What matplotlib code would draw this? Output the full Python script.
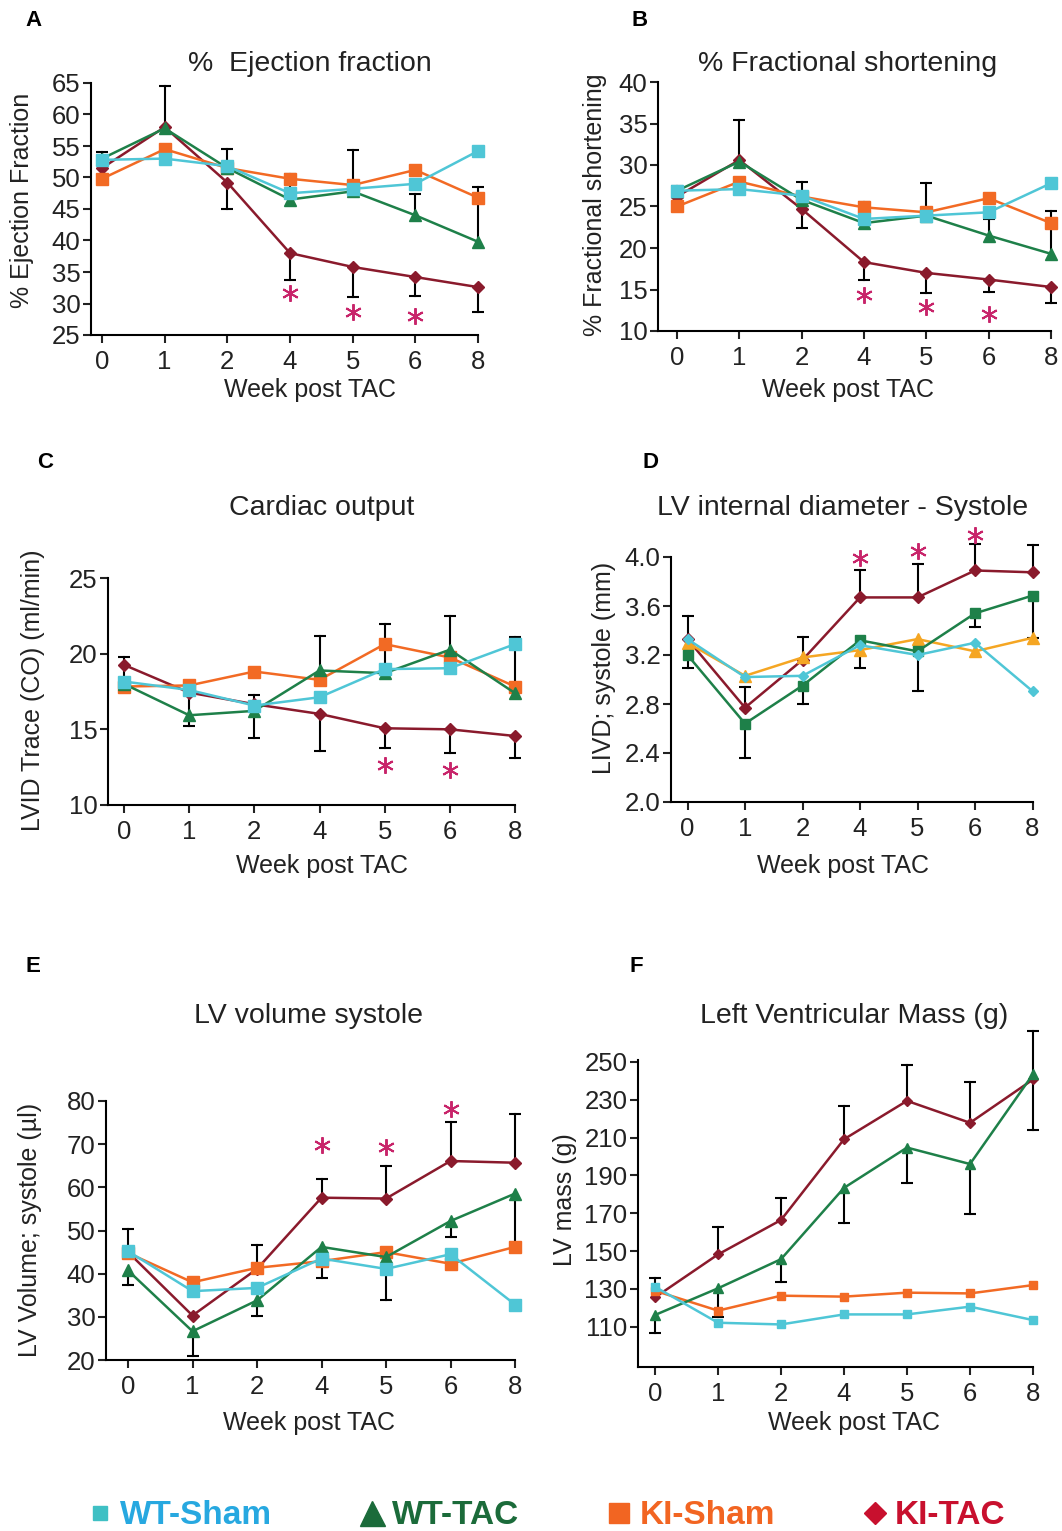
import matplotlib
matplotlib.use('Agg')
import matplotlib.pyplot as plt
from matplotlib.lines import Line2D
from matplotlib.font_manager import FontProperties

plt.rcParams['font.family'] = ['Liberation Sans', 'DejaVu Sans']

W, H = 1062, 1531

WEEKS = ['0', '1', '2', '4', '5', '6', '8']

# A - ejection fraction
EF_WT_SHAM = [52.8, 53.0, 51.8, 47.5, 48.2, 49.0, 54.2]
EF_WT_TAC = [53.0, 57.8, 51.5, 46.5, 47.8, 44.0, 39.8]
EF_KI_SHAM = [49.8, 54.5, 51.5, 49.8, 48.8, 51.2, 46.8]
EF_KI_TAC = [51.5, 58.0, 49.2, 38.0, 35.8, 34.2, 32.6]
EF_WT_TAC_UP = [1.0, 6.8, 3.0, 4.0, 6.5, 3.4, 8.7]
EF_WT_TAC_DN = [0, 0, 0, 0, 0, 0, 0]
EF_KI_TAC_UP = [0, 0, 0, 0, 0, 0, 0]
EF_KI_TAC_DN = [0, 0, 4.2, 4.2, 4.8, 3.0, 4.0]
EF_STARS = [31.7, 28.7, 28.0]

# B - fractional shortening
FS_WT_SHAM = [26.9, 27.1, 26.3, 23.5, 23.9, 24.3, 27.8]
FS_WT_TAC = [26.9, 30.4, 25.8, 23.0, 23.9, 21.5, 19.3]
FS_KI_SHAM = [25.0, 28.0, 26.2, 24.9, 24.3, 26.0, 23.0]
FS_KI_TAC = [26.2, 30.6, 24.7, 18.3, 17.0, 16.2, 15.3]
FS_WT_TAC_UP = [0.6, 5.0, 2.15, 2.5, 3.9, 2.0, 5.2]
FS_WT_TAC_DN = [0, 0, 0, 0, 0, 0, 0]
FS_KI_TAC_UP = [0, 0, 0, 0, 0, 0, 0]
FS_KI_TAC_DN = [0, 0, 2.3, 2.1, 2.4, 1.5, 1.9]
FS_STARS = [14.3, 12.9, 12.0]

# C - cardiac output
CO_WT_SHAM = [18.16, 17.6, 16.57, 17.12, 18.98, 19.04, 20.63]
CO_WT_TAC = [18.0, 15.93, 16.22, 18.89, 18.71, 20.26, 17.39]
CO_KI_SHAM = [17.83, 17.9, 18.82, 18.27, 20.63, 19.75, 17.83]
CO_KI_TAC = [19.26, 17.43, 16.66, 16.02, 15.07, 15.0, 14.56]
CO_WT_TAC_UP = [1.8, 0, 1.06, 2.25, 3.25, 2.2, 3.7]
CO_WT_TAC_DN = [0, 0, 0, 0, 0, 0, 0]
CO_KI_TAC_UP = [0, 0, 0, 0, 0, 0, 0]
CO_KI_TAC_DN = [0, 2.2, 2.2, 2.45, 1.32, 1.58, 1.47]
CO_STARS = [12.65, 12.3]

# D - LV internal diameter, systole
LVID_WT_SHAM = [3.33, 3.02, 3.03, 3.28, 3.20, 3.30, 2.905]
LVID_WT_TAC = [3.20, 2.64, 2.95, 3.32, 3.23, 3.54, 3.685]
LVID_KI_SHAM = [3.30, 3.03, 3.18, 3.24, 3.33, 3.23, 3.34]
LVID_KI_TAC = [3.33, 2.77, 3.16, 3.67, 3.67, 3.89, 3.875]
LVID_WT_TAC_UP = [0, 0, 0, 0, 0, 0, 0]
LVID_WT_TAC_DN = [0.11, 0.28, 0.15, 0.23, 0.32, 0.11, 0.35]
LVID_KI_TAC_UP = [0.19, 0.17, 0.19, 0.22, 0.27, 0.22, 0.22]
LVID_KI_TAC_DN = [0, 0, 0, 0, 0, 0, 0]
LVID_STARS = [3.99, 4.05, 4.18]

# E - LV volume, systole
LVV_WT_SHAM = [45.2, 35.95, 36.7, 43.5, 41.1, 44.5, 32.85]
LVV_WT_TAC = [40.75, 26.65, 33.8, 46.2, 43.85, 52.2, 58.55]
LVV_KI_SHAM = [44.8, 38.0, 41.35, 42.9, 45.0, 42.3, 46.2]
LVV_KI_TAC = [45.0, 30.3, 41.1, 57.6, 57.4, 66.1, 65.7]
LVV_WT_TAC_UP = [0, 0, 0, 0, 0, 0, 0]
LVV_WT_TAC_DN = [3.45, 5.8, 3.7, 7.2, 9.95, 3.7, 12.35]
LVV_KI_TAC_UP = [5.3, 0, 5.45, 4.3, 7.6, 8.95, 11.3]
LVV_KI_TAC_DN = [0, 0, 0, 0, 0, 0, 0]
LVV_STARS = [69.8, 69.4, 78.1]

# F - LV mass
LVM_WT_SHAM = [131.1, 112.1, 111.2, 116.5, 116.5, 120.6, 113.5]
LVM_WT_TAC = [116.2, 130.3, 145.7, 183.4, 204.7, 196.0, 243.5]
LVM_KI_SHAM = [129.0, 118.5, 126.4, 125.9, 128.0, 127.6, 132.0]
LVM_KI_TAC = [125.5, 148.2, 166.4, 209.1, 229.4, 217.8, 240.7]
LVM_WT_TAC_UP = [0, 0, 0, 0, 0, 0, 22.9]
LVM_WT_TAC_DN = [9.7, 15.0, 12.3, 18.4, 18.7, 26.5, 0]
LVM_KI_TAC_UP = [10.0, 14.6, 11.9, 17.7, 19.2, 21.5, 0]
LVM_KI_TAC_DN = [0, 0, 0, 0, 0, 0, 26.8]

GROUPS = ['WT-Sham', 'WT-TAC', 'KI-Sham', 'KI-TAC']

CYAN = '#4fc6d6'
GREEN = '#1e8049'
ORANGE = '#f26a24'
AMBER = '#f5a623'
DARKRED = '#8a1a2c'
STAR = '#c8246a'
TXT = '#222222'


def px_axes(fig, spine, x0, x6, top, bottom):
    ax = fig.add_axes([spine / W, 1 - bottom / H, (x6 - spine) / W, (bottom - top) / H])
    unit = (x6 - x0) / 6.0
    ax.set_xlim(-(x0 - spine) / unit, 6)
    return ax


def err_bars(ax, x, y, err, sign):
    for xi, yi, e in zip(x, y, err):
        if e <= 0:
            continue
        end = yi + sign * e
        ax.plot([xi, xi], [yi, end], color='black', lw=1.5, zorder=1.8, clip_on=False)
        ax.plot([xi], [end], marker='_', ms=9, mew=1.5, color='black', zorder=1.8, clip_on=False)


def draw_panel(ax, series, errs, ylim, yticks, ylabels=None, stars=None, star_x=None):
    x = list(range(len(WEEKS)))
    wt_tac, ki_tac = series[1][0], series[3][0]
    err_bars(ax, x, wt_tac, errs[0], 1)
    err_bars(ax, x, wt_tac, errs[1], -1)
    err_bars(ax, x, ki_tac, errs[2], 1)
    err_bars(ax, x, ki_tac, errs[3], -1)
    # draw KI-TAC first, WT-Sham on top
    for vals, color, mk, ms in reversed(series):
        ax.plot(x, vals, color=color, lw=1.8, marker=mk, ms=ms, mec=color, mfc=color,
                zorder=2, clip_on=False)
    if stars is not None:
        ax.plot(star_x, stars, ls='none', marker=(6, 2, 0), ms=12, mew=1.4,
                color=STAR, clip_on=False, zorder=4)
    ax.set_ylim(*ylim)
    ax.set_yticks(yticks)
    if ylabels is not None:
        ax.set_yticklabels(ylabels)
    ax.set_xticks(x)
    ax.set_xticklabels(WEEKS)
    for s in ['top', 'right']:
        ax.spines[s].set_visible(False)
    for s in ['left', 'bottom']:
        ax.spines[s].set_linewidth(1.5)
    ax.tick_params(direction='out', length=6, width=1.5, labelsize=18.5, colors=TXT)
    ax.tick_params(axis='x', pad=5)
    ax.tick_params(axis='y', pad=1.5)


fig = plt.figure(figsize=(W / 100, H / 100), dpi=100)


def std_series(a, b, c, d):
    return [(a, CYAN, 's', 8), (b, GREEN, '^', 9), (c, ORANGE, 's', 8), (d, DARKRED, 'D', 6.5)]


# A
ax = px_axes(fig, 91, 102, 478, 83, 335)
draw_panel(ax, std_series(EF_WT_SHAM, EF_WT_TAC, EF_KI_SHAM, EF_KI_TAC),
           [EF_WT_TAC_UP, EF_WT_TAC_DN, EF_KI_TAC_UP, EF_KI_TAC_DN],
           (25, 65), range(25, 66, 5), stars=EF_STARS, star_x=[3, 4, 5])

# B
ax = px_axes(fig, 658, 677, 1051, 82, 331)
draw_panel(ax, std_series(FS_WT_SHAM, FS_WT_TAC, FS_KI_SHAM, FS_KI_TAC),
           [FS_WT_TAC_UP, FS_WT_TAC_DN, FS_KI_TAC_UP, FS_KI_TAC_DN],
           (10, 40), range(10, 41, 5), stars=FS_STARS, star_x=[3, 4, 5])

# C
ax = px_axes(fig, 108, 124, 515, 578, 805)
draw_panel(ax, std_series(CO_WT_SHAM, CO_WT_TAC, CO_KI_SHAM, CO_KI_TAC),
           [CO_WT_TAC_UP, CO_WT_TAC_DN, CO_KI_TAC_UP, CO_KI_TAC_DN],
           (10, 25), range(10, 26, 5), stars=CO_STARS, star_x=[4, 5])

# D
ax = px_axes(fig, 671, 687.5, 1032.5, 557, 802)
draw_panel(ax, [(LVID_WT_SHAM, CYAN, 'D', 5.5), (LVID_WT_TAC, GREEN, 's', 7.5),
                (LVID_KI_SHAM, AMBER, '^', 8), (LVID_KI_TAC, DARKRED, 'D', 6.5)],
           [LVID_WT_TAC_UP, LVID_WT_TAC_DN, LVID_KI_TAC_UP, LVID_KI_TAC_DN],
           (2.0, 4.0), [2.0, 2.4, 2.8, 3.2, 3.6, 4.0],
           ylabels=['2.0', '2.4', '2.8', '3.2', '3.6', '4.0'],
           stars=LVID_STARS, star_x=[3, 4, 5])

# E
ax = px_axes(fig, 106, 128, 515, 1101, 1360)
draw_panel(ax, std_series(LVV_WT_SHAM, LVV_WT_TAC, LVV_KI_SHAM, LVV_KI_TAC),
           [LVV_WT_TAC_UP, LVV_WT_TAC_DN, LVV_KI_TAC_UP, LVV_KI_TAC_DN],
           (20, 80), range(20, 81, 10), stars=LVV_STARS, star_x=[3, 4, 5])

# F
ax = px_axes(fig, 638, 655, 1033, 1060, 1367)
draw_panel(ax, [(LVM_WT_SHAM, CYAN, 's', 6), (LVM_WT_TAC, GREEN, '^', 7.5),
                (LVM_KI_SHAM, ORANGE, 's', 6), (LVM_KI_TAC, DARKRED, 'D', 5)],
           [LVM_WT_TAC_UP, LVM_WT_TAC_DN, LVM_KI_TAC_UP, LVM_KI_TAC_DN],
           (88.7, 251), range(110, 251, 20))

# panel letters, titles, axis labels
letters = [('A', 33, 20), ('B', 640, 20), ('C', 45, 462), ('D', 651, 462), ('E', 33, 967), ('F', 636, 967)]
for t, px, py in letters:
    fig.text(px / W, 1 - py / H, t, fontsize=16, fontweight='bold', ha='center', va='center')

titles = [('%  Ejection fraction', 310, 64), ('% Fractional shortening', 848, 64),
          ('Cardiac output', 322, 508), ('LV internal diameter - Systole', 843, 508),
          ('LV volume systole', 309, 1016), ('Left Ventricular Mass (g)', 854, 1016)]
for t, px, py in titles:
    fig.text(px / W, 1 - py / H, t, fontsize=20.5, ha='center', va='center', color=TXT)

for px, py in [(310, 390), (848, 390), (322, 866), (843, 866), (309, 1423), (854, 1423)]:
    fig.text(px / W, 1 - py / H, 'Week post TAC', fontsize=18, ha='center', va='center',
             color=TXT)

ylabs = [('% Ejection Fraction', 22, 200), ('% Fractional shortening', 595, 205),
         ('LVID Trace (CO) (ml/min)', 33, 690), ('LIVD; systole (mm)', 604, 668),
         ('LV Volume; systole (µl)', 30, 1230), ('LV mass (g)', 565, 1200)]
for t, px, py in ylabs:
    fig.text(px / W, 1 - py / H, t, fontsize=18, ha='center', va='center', rotation=90,
             color=TXT)

# legend
handles = [Line2D([], [], ls='none', marker='s', ms=10, color='#3fc0c4'),
           Line2D([], [], ls='none', marker='^', ms=18, color='#1b6b3a'),
           Line2D([], [], ls='none', marker='s', ms=14, color='#f26522'),
           Line2D([], [], ls='none', marker='D', ms=11, color='#c8102e')]
leg_font = FontProperties(family=['Liberation Sans Narrow', 'Liberation Sans'], weight='bold',
                          size=24)
leg = fig.legend(handles, GROUPS, loc='center', bbox_to_anchor=(547 / W, 1 - 1516 / H),
                 ncol=4, frameon=False, prop=leg_font, handlelength=0.7,
                 handletextpad=0.25, columnspacing=2.65)
for txt, c in zip(leg.get_texts(), ['#27a8e0', '#1b6b3a', '#f26522', '#c8102e']):
    txt.set_color(c)

fig.savefig('out.png', dpi=100)
